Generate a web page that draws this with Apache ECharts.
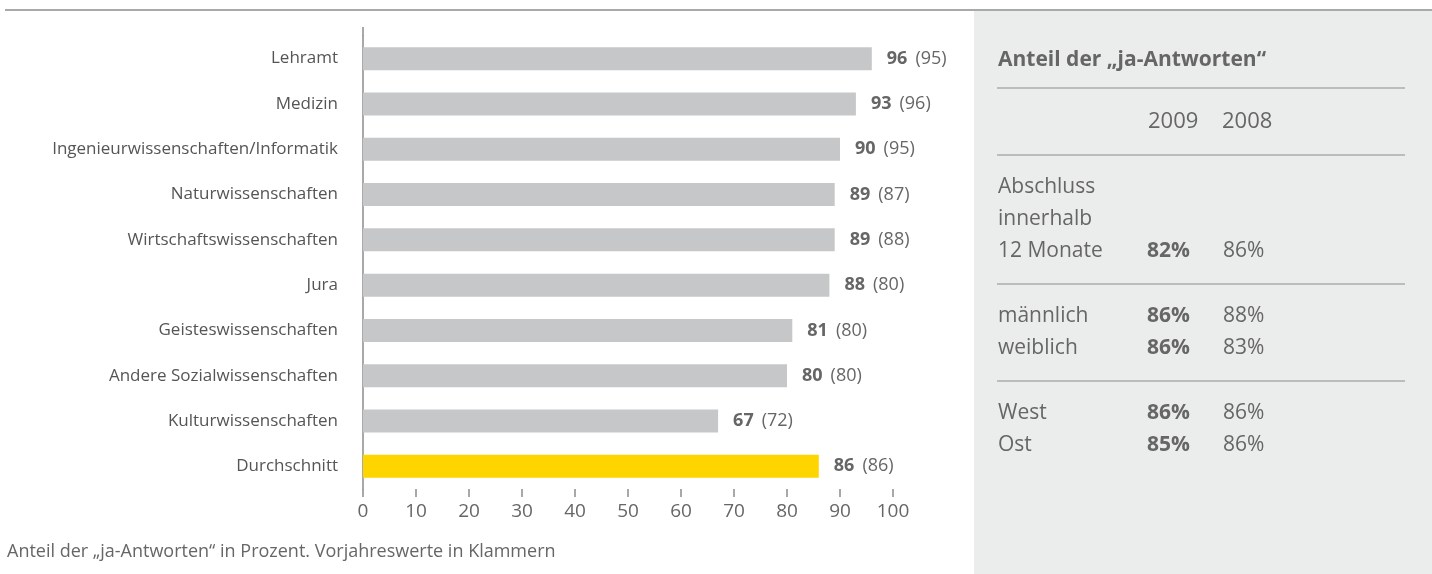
<!DOCTYPE html>
<html>
<head>
<meta charset="utf-8">
<script src="https://cdn.jsdelivr.net/npm/echarts@6/dist/echarts.min.js"></script>
<style>
  html, body { margin: 0; padding: 0; background: #fff; }
  #chart { width: 1432px; height: 574px; }
</style>
</head>
<body>
<div id="chart"></div>
<script>
// Daten
const categories = ["Lehramt", "Medizin", "Ingenieurwissenschaften/Informatik", "Naturwissenschaften",
  "Wirtschaftswissenschaften", "Jura", "Geisteswissenschaften", "Andere Sozialwissenschaften",
  "Kulturwissenschaften", "Durchschnitt"];
const values2009 = [96, 93, 90, 89, 89, 88, 81, 80, 67, 86];
const values2008 = [95, 96, 95, 87, 88, 80, 80, 80, 72, 86];
const xTicks = [0, 10, 20, 30, 40, 50, 60, 70, 80, 90, 100];

// Tabelle rechts
const tableTitle = "Anteil der „ja-Antworten“";
const tableYears = ["2009", "2008"];
const tableGroups = [
  [{ label: ["Abschluss", "innerhalb", "12 Monate"], v2009: "82%", v2008: "86%" }],
  [{ label: ["männlich"], v2009: "86%", v2008: "88%" }, { label: ["weiblich"], v2009: "86%", v2008: "83%" }],
  [{ label: ["West"], v2009: "86%", v2008: "86%" }, { label: ["Ost"], v2009: "85%", v2008: "86%" }]
];
const footnote = "Anteil der „ja-Antworten“ in Prozent. Vorjahreswerte in Klammern";

const FONT = "Open Sans";
const TXT = "#666";
const LINE = "#8c8c8c";

const chart = echarts.init(document.getElementById("chart"));

// Grafik: Trennlinie, grauer Kasten, Tabelle, Fußnote
const graphic = [
  { type: "rect", shape: { x: 974, y: 11, width: 458, height: 563 }, style: { fill: "#ebecec" }, z: -10 },
  { type: "line", shape: { x1: 5, y1: 10, x2: 1432, y2: 10 }, style: { stroke: LINE, lineWidth: 1.5 } },
  { type: "line", shape: { x1: 363, y1: 27, x2: 363, y2: 36 }, style: { stroke: LINE, lineWidth: 1.5 } },
  { type: "text", x: 998, y: 60, style: { text: tableTitle, font: "bold 21px '" + FONT + "'", fill: TXT, verticalAlign: "middle" } },
  { type: "line", shape: { x1: 997, y1: 88, x2: 1405, y2: 88 }, style: { stroke: LINE, lineWidth: 1 } },
  { type: "text", x: 1148, y: 122, style: { text: tableYears[0], font: "22px '" + FONT + "'", fill: TXT, verticalAlign: "middle" } },
  { type: "text", x: 1222, y: 122, style: { text: tableYears[1], font: "22px '" + FONT + "'", fill: TXT, verticalAlign: "middle" } },
  { type: "line", shape: { x1: 997, y1: 155, x2: 1405, y2: 155 }, style: { stroke: LINE, lineWidth: 1 } }
];

let y = 187;
const rowH = 32;
tableGroups.forEach((group, gi) => {
  group.forEach(row => {
    row.label.forEach((l, li) => {
      graphic.push({ type: "text", x: 998, y: y, style: { text: l, font: "21px '" + FONT + "'", fill: TXT, verticalAlign: "middle" } });
      if (li < row.label.length - 1) y += rowH;
    });
    graphic.push({ type: "text", x: 1147, y: y, style: { text: row.v2009, font: "bold 21px '" + FONT + "'", fill: TXT, verticalAlign: "middle" } });
    graphic.push({ type: "text", x: 1223, y: y, style: { text: row.v2008, font: "21px '" + FONT + "'", fill: TXT, verticalAlign: "middle" } });
    y += rowH;
  });
  if (gi < tableGroups.length - 1) {
    const ly = y + 1;
    graphic.push({ type: "line", shape: { x1: 997, y1: ly, x2: 1405, y2: ly }, style: { stroke: LINE, lineWidth: 1 } });
    y = ly + 32;
  }
});

graphic.push({ type: "text", x: 7, y: 552, style: { text: footnote, font: "18px '" + FONT + "'", fill: TXT, verticalAlign: "middle" } });

const option = {
  animation: false,
  textStyle: { fontFamily: FONT },
  grid: { left: 363, right: 539, top: 36, bottom: 85 },
  xAxis: {
    type: "value",
    min: 0,
    max: 100,
    interval: 10,
    splitLine: { show: false },
    axisLine: { show: false },
    axisTick: { show: true, length: 8, lineStyle: { color: LINE, width: 1.5 } },
    axisLabel: { color: TXT, fontSize: 19, margin: 13, formatter: v => (xTicks.includes(v) ? String(v) : "") }
  },
  yAxis: {
    type: "category",
    inverse: true,
    data: categories,
    axisLine: { show: true, lineStyle: { color: LINE, width: 1.5 } },
    axisTick: { show: false },
    axisLabel: { color: "#555", fontSize: 17, margin: 25 }
  },
  series: [
    {
      type: "bar",
      barWidth: 23,
      data: values2009.map((v, i) => ({
        value: v,
        itemStyle: { color: categories[i] === "Durchschnitt" ? "#ffd500" : "#c6c7c8" }
      })),
      label: {
        show: true,
        position: "right",
        distance: 15,
        formatter: p => "{b|" + p.value + "}{n|(" + values2008[p.dataIndex] + ")}",
        rich: {
          b: { fontSize: 18, fontWeight: "bold", color: "#666", fontFamily: FONT },
          n: { fontSize: 18, color: "#666", fontFamily: FONT, padding: [0, 0, 0, 8] }
        }
      }
    }
  ],
  graphic: graphic
};

chart.setOption(option);
</script>
</body>
</html>
